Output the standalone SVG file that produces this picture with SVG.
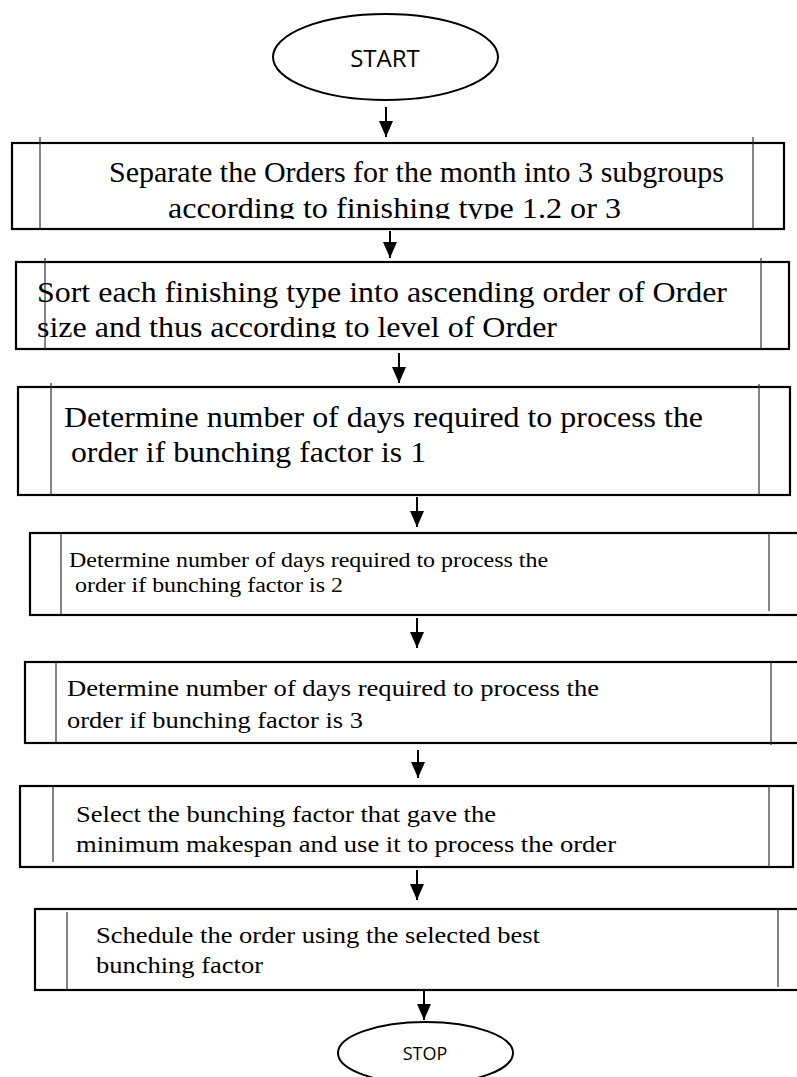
<svg xmlns="http://www.w3.org/2000/svg" width="797" height="1077" viewBox="0 0 797 1077">
<style>
.box{fill:#fff;stroke:#000;stroke-width:2.2}
.inner{stroke:#333;stroke-width:1.2;fill:none}
.term{fill:#fff;stroke:#000;stroke-width:2}
.t{fill:#000}
.s{fill:#000;text-anchor:middle}
.conn{stroke:#000;stroke-width:2;fill:none;marker-end:url(#ah)}
</style>
<defs>
<marker id="ah" markerUnits="userSpaceOnUse" markerWidth="14" markerHeight="16" refX="7" refY="16" orient="0" viewBox="0 0 14 16">
<path d="M0,0 L14,0 L7,16 Z" fill="#000"/>
</marker>
<clipPath id="c1"><rect x="0" y="140" width="797" height="79"/></clipPath>
<clipPath id="c2"><rect x="0" y="260" width="797" height="78"/></clipPath>
</defs>

<g id="connectors">
<line class="conn" x1="386" y1="107" x2="386" y2="137"/>
<line class="conn" x1="390" y1="231" x2="390" y2="258"/>
<line class="conn" x1="399" y1="353" x2="399" y2="383"/>
<line class="conn" x1="417" y1="497" x2="417" y2="527"/>
<line class="conn" x1="417" y1="618" x2="417" y2="648"/>
<line class="conn" x1="418" y1="750" x2="418" y2="778"/>
<line class="conn" x1="417" y1="870" x2="417" y2="900"/>
<line class="conn" x1="424" y1="991" x2="424" y2="1020"/>
</g>

<g id="start" font-family="Open Sans, sans-serif">
<ellipse class="term" cx="385.5" cy="57" rx="112.5" ry="43"/>
<text class="s" x="385" y="67" font-size="24">START</text>
</g>

<g font-family="Liberation Serif, serif">
<g id="box1">
<rect class="box" x="12" y="143" width="772" height="86"/>
<line class="inner" x1="40" y1="137" x2="40" y2="229"/>
<line class="inner" x1="753" y1="137" x2="753" y2="229"/>
<text class="t" x="109" y="182" font-size="30" textLength="615" lengthAdjust="spacingAndGlyphs">Separate the Orders for the month into 3 subgroups</text>
<text class="t" x="168" y="218" font-size="30" textLength="453" lengthAdjust="spacingAndGlyphs" clip-path="url(#c1)">according to finishing type 1.2 or 3</text>
</g>

<g id="box2">
<rect class="box" x="16" y="262" width="773" height="87"/>
<line class="inner" x1="45" y1="258" x2="45" y2="349"/>
<line class="inner" x1="761" y1="258" x2="761" y2="349"/>
<text class="t" x="37" y="302" font-size="30" textLength="690" lengthAdjust="spacingAndGlyphs">Sort each finishing type into ascending order of Order</text>
<text class="t" x="37" y="337" font-size="30" textLength="520" lengthAdjust="spacingAndGlyphs" clip-path="url(#c2)">size and thus according to level of Order</text>
</g>

<g id="box3">
<rect class="box" x="18" y="387" width="772" height="108"/>
<line class="inner" x1="51" y1="383" x2="51" y2="495"/>
<line class="inner" x1="759" y1="384" x2="759" y2="495"/>
<text class="t" x="64" y="427" font-size="29" textLength="639" lengthAdjust="spacingAndGlyphs">Determine number of days required to process the</text>
<text class="t" x="71" y="462" font-size="29" textLength="355" lengthAdjust="spacingAndGlyphs">order if bunching factor is 1</text>
</g>

<g id="box4">
<rect class="box" x="30" y="533" width="780" height="82"/>
<line class="inner" x1="61" y1="533" x2="61" y2="614"/>
<line class="inner" x1="769" y1="533" x2="769" y2="611"/>
<text class="t" x="69" y="567" font-size="20" textLength="479" lengthAdjust="spacingAndGlyphs">Determine number of days required to process the</text>
<text class="t" x="75" y="592" font-size="20" textLength="268" lengthAdjust="spacingAndGlyphs">order if bunching factor is 2</text>
</g>

<g id="box5">
<rect class="box" x="25" y="662" width="785" height="81"/>
<line class="inner" x1="56" y1="662" x2="56" y2="743"/>
<line class="inner" x1="771" y1="662" x2="771" y2="745"/>
<text class="t" x="67" y="696" font-size="24" textLength="532" lengthAdjust="spacingAndGlyphs">Determine number of days required to process the</text>
<text class="t" x="67" y="728" font-size="24" textLength="296" lengthAdjust="spacingAndGlyphs">order if bunching factor is 3</text>
</g>

<g id="box6">
<rect class="box" x="20" y="786" width="773" height="81"/>
<line class="inner" x1="53" y1="786" x2="53" y2="862"/>
<line class="inner" x1="769" y1="786" x2="769" y2="867"/>
<text class="t" x="76" y="822" font-size="24" textLength="420" lengthAdjust="spacingAndGlyphs">Select the bunching factor that gave the</text>
<text class="t" x="76" y="852" font-size="24" textLength="540" lengthAdjust="spacingAndGlyphs">minimum makespan and use it to process the order</text>
</g>

<g id="box7">
<rect class="box" x="35" y="909" width="775" height="81"/>
<line class="inner" x1="67" y1="912" x2="67" y2="990"/>
<line class="inner" x1="778" y1="909" x2="778" y2="987"/>
<text class="t" x="96" y="943" font-size="24" textLength="444" lengthAdjust="spacingAndGlyphs">Schedule the order using the selected best</text>
<text class="t" x="96" y="973" font-size="24" textLength="167" lengthAdjust="spacingAndGlyphs">bunching factor</text>
</g>
</g>

<g id="stop" font-family="Open Sans, sans-serif">
<ellipse class="term" cx="425.5" cy="1053" rx="87.5" ry="31"/>
<text class="s" x="425" y="1060" font-size="18">STOP</text>
</g>
</svg>
